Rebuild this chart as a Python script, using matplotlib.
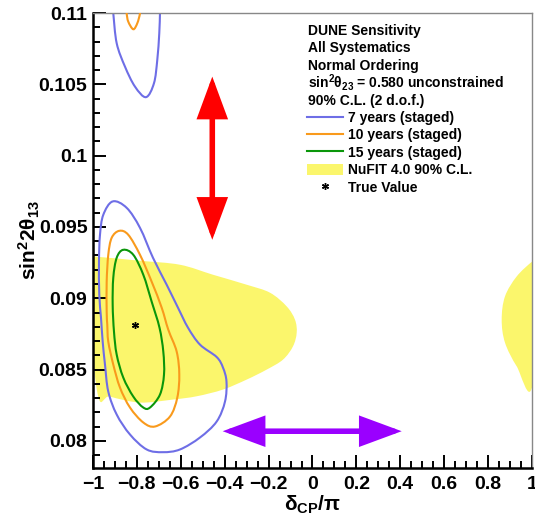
import matplotlib
matplotlib.use("Agg")
import numpy as np
import matplotlib.pyplot as plt
from matplotlib.lines import Line2D
from matplotlib.patches import Patch, PathPatch
from matplotlib.path import Path
from matplotlib.ticker import FixedLocator, MultipleLocator, FuncFormatter

# ---- data (delta_CP / pi, sin^2 2theta13) ----
blue_low_x = [-0.9103, -0.8465, -0.7859, -0.7267, -0.6643, -0.6128, -0.5672, -0.5125,
              -0.4365, -0.4078, -0.3918, -0.3986, -0.4365, -0.5125, -0.6037, -0.6811,
              -0.7554, -0.8314, -0.8920, -0.9303, -0.9453, -0.9558, -0.9635, -0.9713,
              -0.9727, -0.9681, -0.9531, -0.9103]
blue_low_y = [0.09679, 0.09634, 0.09494, 0.09284, 0.09095, 0.08934, 0.08794, 0.08675,
              0.08588, 0.08514, 0.08416, 0.08276, 0.08136, 0.08024, 0.07940, 0.07921,
              0.07940, 0.08045, 0.08185, 0.08346, 0.08535, 0.08696, 0.08864, 0.09025,
              0.09256, 0.09445, 0.09585, 0.09679]
blue_up_x = [-0.9112, -0.9075, -0.8920, -0.8542, -0.8087, -0.7585, -0.7221, -0.7071,
             -0.6980, -0.6948, -0.6934]
blue_up_y = [0.11063, 0.10998, 0.10788, 0.10624, 0.10484, 0.10410, 0.10508, 0.10671,
             0.10858, 0.10998, 0.11063]

orange_low_x = [-0.8802, -0.8392, -0.7859, -0.7326, -0.6870, -0.6570, -0.6187, -0.6068,
                -0.6159, -0.6492, -0.7175, -0.7708, -0.8314, -0.8770, -0.9075, -0.9303,
                -0.9349, -0.9376, -0.9376, -0.9303, -0.9148, -0.8802]
orange_low_y = [0.09473, 0.09445, 0.09305, 0.09116, 0.08934, 0.08780, 0.08626, 0.08465,
                0.08304, 0.08171, 0.08101, 0.08129, 0.08234, 0.08374, 0.08535, 0.08696,
                0.08815, 0.08906, 0.09116, 0.09305, 0.09424, 0.09473]
orange_up_x = [-0.8483, -0.8465, -0.8392, -0.8164, -0.7982, -0.7859, -0.7845]
orange_up_y = [0.11063, 0.10998, 0.10939, 0.10886, 0.10928, 0.10998, 0.11063]

green_x = [-0.8620, -0.8164, -0.7708, -0.7326, -0.6970, -0.6797, -0.6765, -0.6948,
           -0.7403, -0.7708, -0.8164, -0.8620, -0.8920, -0.9043, -0.9103, -0.9075,
           -0.8920, -0.8620]
green_y = [0.09340, 0.09305, 0.09165, 0.08976, 0.08794, 0.08626, 0.08465, 0.08325,
           0.08234, 0.08234, 0.08311, 0.08444, 0.08605, 0.08766, 0.08955, 0.09144,
           0.09284, 0.09340]

nufit_left_x = [-1.0364, -0.9818, -0.7859, -0.6037, -0.4533, -0.2998, -0.1936, -0.1176,
                -0.0798, -0.0720, -0.0889, -0.1344, -0.2087, -0.2998, -0.4077, -0.5275,
                -0.6355, -0.7859, -0.9226, -0.9818, -1.0364]
nufit_left_y = [0.09291, 0.09291, 0.09263, 0.09235, 0.09165, 0.09095, 0.09039, 0.08943,
                0.08850, 0.08759, 0.08663, 0.08570, 0.08500, 0.08430, 0.08360, 0.08313,
                0.08290, 0.08269, 0.08311, 0.08353, 0.08360]
nufit_right_x = [1.0364, 1.0013, 0.9302, 0.8769, 0.8619, 0.8769, 0.9302, 1.0013, 1.0364]
nufit_right_y = [0.09284, 0.09258, 0.09153, 0.09013, 0.08850, 0.08689, 0.08523, 0.08383,
                 0.08360]

true_dcp = -0.81
true_s13 = 0.0881

# arrows: (x_start, y_start, x_end, y_end)
red_arrow = (-0.4565, 0.09410, -0.4565, 0.10554)
violet_arrow = (-0.4091, 0.08068, 0.4064, 0.08068)

x_ticks = [-1, -0.8, -0.6, -0.4, -0.2, 0, 0.2, 0.4, 0.6, 0.8, 1]
y_ticks = [0.08, 0.085, 0.09, 0.095, 0.1, 0.105, 0.11]

header_lines = ["DUNE Sensitivity", "All Systematics", "Normal Ordering",
                r"sin$^{2}$θ$_{23}$ = 0.580 unconstrained", "90% C.L. (2 d.o.f.)"]
labels = ["7 years (staged)", "10 years (staged)", "15 years (staged)",
          "NuFIT 4.0 90% C.L.", "True Value"]

c_blue = "#6e6ee6"
c_orange = "#f99a1c"
c_green = "#0a960a"
c_yellow = "#fbf66c"


def smooth_path(xs, ys, closed):
    """Catmull-Rom curve through the read points, as a bezier Path"""
    pts = np.column_stack([xs, ys])
    if closed:
        pts = pts[:-1]
    n = len(pts)
    verts = [pts[0]]
    codes = [Path.MOVETO]
    nseg = n if closed else n - 1
    for i in range(nseg):
        p1 = pts[i]
        p2 = pts[(i + 1) % n]
        p0 = pts[(i - 1) % n] if (closed or i > 0) else p1
        p3 = pts[(i + 2) % n] if (closed or i + 2 < n) else p2
        verts += [p1 + (p2 - p0) / 6, p2 - (p3 - p1) / 6, p2]
        codes += [Path.CURVE4] * 3
    return Path(verts, codes)


plt.rcParams["font.family"] = ["Liberation Sans", "DejaVu Sans"]
plt.rcParams["font.weight"] = "bold"
plt.rcParams["mathtext.fontset"] = "custom"
plt.rcParams["mathtext.rm"] = "Liberation Sans:bold"
plt.rcParams["mathtext.it"] = "Liberation Sans:bold"
plt.rcParams["mathtext.bf"] = "Liberation Sans:bold"

fig = plt.figure(figsize=(5.35, 5.16), dpi=100)
ax = fig.add_axes([0.1738, 0.0930, 0.8206, 0.8818])

for xs, ys in [(nufit_left_x, nufit_left_y), (nufit_right_x, nufit_right_y)]:
    ax.add_patch(PathPatch(smooth_path(xs, ys, True), facecolor=c_yellow,
                           edgecolor="none", zorder=1))

curves = [(blue_low_x, blue_low_y, True, c_blue, 2),
          (blue_up_x, blue_up_y, False, c_blue, 2),
          (orange_low_x, orange_low_y, True, c_orange, 3),
          (orange_up_x, orange_up_y, False, c_orange, 3),
          (green_x, green_y, True, c_green, 4)]
for xs, ys, closed, col, z in curves:
    ax.add_patch(PathPatch(smooth_path(xs, ys, closed), facecolor="none",
                           edgecolor=col, lw=1.5, zorder=z))

ax.plot([true_dcp], [true_s13], ls="none", marker=(6, 2, 0), ms=5, mew=1.0,
        color="black", zorder=5)

for (x0, y0, x1, y1), col in [(red_arrow, "#ff0000"), (violet_arrow, "#9a00ff")]:
    ax.annotate("", xy=(x1, y1), xytext=(x0, y0),
                arrowprops=dict(arrowstyle="<|-|>,head_length=23,head_width=8.5",
                                mutation_scale=1, color=col, lw=4.0,
                                shrinkA=0, shrinkB=0, joinstyle="miter"),
                zorder=6)

ax.set_xlim(-1, 1)
ax.set_ylim(0.0781, 0.11)

ax.xaxis.set_major_locator(FixedLocator(x_ticks))
ax.xaxis.set_minor_locator(MultipleLocator(0.05))
ax.yaxis.set_major_locator(FixedLocator(y_ticks))
ax.yaxis.set_minor_locator(MultipleLocator(0.001))
fmt = FuncFormatter(lambda v, p: ("%g" % round(v, 4)).replace("-", "\u2212"))
ax.xaxis.set_major_formatter(fmt)
ax.yaxis.set_major_formatter(fmt)

ax.tick_params(which="both", direction="in", top=False, right=False, width=1.4,
               labelsize=14)
ax.tick_params(which="major", length=9.5)
ax.tick_params(which="minor", length=5)
ax.tick_params(axis="x", pad=6)
ax.tick_params(axis="y", pad=4)

for side in ("left", "bottom"):
    ax.spines[side].set_linewidth(1.8)
for side in ("top", "right"):
    ax.spines[side].set_linewidth(1.0)
    ax.spines[side].set_color("#888888")

ax.text(0.5, -0.081, r"δ$_{\mathbf{CP}}$/π", transform=ax.transAxes, ha="center",
        va="center", fontsize=15)
ax.text(-0.145, 0.5, r"sin$^{2}$2θ$_{13}$", transform=ax.transAxes, ha="center",
        va="center", rotation=90, fontsize=15)

header_y = [0.9516, 0.9132, 0.8747, 0.8363, 0.7978]
for txt, yy in zip(header_lines, header_y):
    ax.text(0.49, yy, txt, transform=ax.transAxes, ha="left", va="baseline",
            fontsize=10)

handles = [Line2D([], [], color=c_blue, lw=1.5),
           Line2D([], [], color=c_orange, lw=1.5),
           Line2D([], [], color=c_green, lw=1.5),
           Patch(facecolor=c_yellow, edgecolor="none"),
           Line2D([], [], ls="none", marker=(6, 2, 0), ms=5, mew=1.0, color="black")]
ax.legend(handles, labels, loc="upper left", bbox_to_anchor=(0.4875, 0.785),
          frameon=False, fontsize=10, handlelength=2.6, handletextpad=0.36,
          labelspacing=0.25, borderpad=0, borderaxespad=0, handleheight=0.9)

fig.savefig("out.png", dpi=100)
